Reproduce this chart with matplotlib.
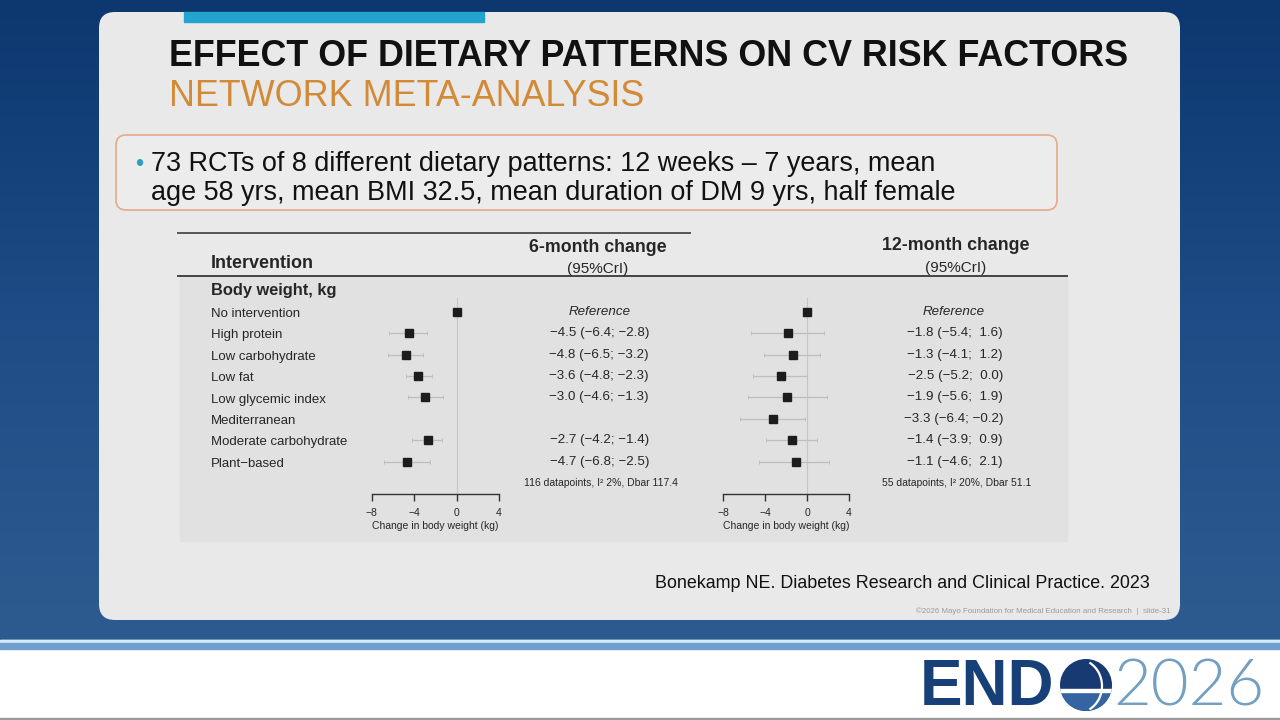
import numpy as np
import matplotlib.pyplot as plt
import matplotlib.transforms as mtransforms
from matplotlib.patches import FancyBboxPatch, Rectangle, Circle, Arc

plt.rcParams['font.family'] = ['Liberation Sans', 'DejaVu Sans']

# ---- data ----
interventions = ['No intervention', 'High protein', 'Low carbohydrate', 'Low fat',
                 'Low glycemic index', 'Mediterranean', 'Moderate carbohydrate',
                 'Plant\u2212based']
est_6m = [0.0, -4.5, -4.8, -3.6, -3.0, np.nan, -2.7, -4.7]
lo_6m = [0.0, -6.4, -6.5, -4.8, -4.6, np.nan, -4.2, -6.8]
hi_6m = [0.0, -2.8, -3.2, -2.3, -1.3, np.nan, -1.4, -2.5]
est_12m = [0.0, -1.8, -1.3, -2.5, -1.9, -3.3, -1.4, -1.1]
lo_12m = [0.0, -5.4, -4.1, -5.2, -5.6, -6.4, -3.9, -4.6]
hi_12m = [0.0, 1.6, 1.2, 0.0, 1.9, -0.2, 0.9, 2.1]
x_ticks = [-8, -4, 0, 4]
footnote_6m = '116 datapoints, I\u00b2 2%, Dbar 117.4'
footnote_12m = '55 datapoints, I\u00b2 20%, Dbar 51.1'

TXT = '#262626'


def fmt(v):
    return f'{v:.1f}'.replace('-', '\u2212')


def ci_label(i, e, l, h):
    if i == 0:
        return 'Reference'
    if np.isnan(e):
        return ''
    hs = fmt(h) if h < 0 else ' ' + fmt(h)  # extra space keeps positives lined up
    return f'{fmt(e)} ({fmt(l)}; {hs})'


def forest(ax, est, lo, hi):
    est, lo, hi = np.array(est), np.array(lo), np.array(hi)
    rows = np.arange(len(est))
    ok = ~np.isnan(est)
    ax.axvline(0, color='#c6c6c6', lw=0.8, zorder=0)
    ax.errorbar(est[ok], rows[ok], xerr=[est[ok] - lo[ok], hi[ok] - est[ok]],
                fmt='none', ecolor='#bdbdbd', elinewidth=0.9, capsize=1.3, capthick=0.7)
    ax.plot(est[ok], rows[ok], 's', color='#1c1c1c', ms=5.2, zorder=3)
    ax.set_xlim(-8, 4)
    ax.set_ylim(8.51, -0.64)
    ax.set_xticks(x_ticks)
    ax.set_xticklabels([fmt(t).replace('.0', '') for t in x_ticks])
    ax.set_yticks([])
    for s in ['top', 'right', 'left']:
        ax.spines[s].set_visible(False)
    ax.spines['bottom'].set_color('#333333')
    ax.spines['bottom'].set_linewidth(1.0)
    ax.tick_params(axis='x', length=5, width=1.0, color='#333333', labelsize=7.5,
                   labelcolor=TXT, pad=5)
    ax.set_xlabel('Change in body weight (kg)', fontsize=7.5, color=TXT, labelpad=2.5)
    ax.patch.set_alpha(0)


fig = plt.figure(figsize=(12.8, 7.2), dpi=100)
bg = fig.add_axes([0, 0, 1, 1])
bg.set_xlim(0, 1280)
bg.set_ylim(720, 0)
bg.axis('off')

# slide background
grad = np.linspace(0, 1, 256).reshape(-1, 1)
cmap = plt.matplotlib.colors.LinearSegmentedColormap.from_list(
    'bgblue', ['#0c376f', '#1f4c86', '#2e5b8f'])
bg.imshow(grad, extent=(0, 1280, 640, 0), cmap=cmap, aspect='auto', zorder=0)
bg.add_patch(Rectangle((0, 640), 1280, 80, color='white', zorder=1))
bg.add_patch(Rectangle((0, 640), 1280, 3, color='#d4ebf8', zorder=2))
bg.add_patch(Rectangle((0, 643), 1280, 6, color='#6f9ecf', zorder=2))
bg.add_patch(Rectangle((0, 718), 1280, 2, color='#9a9a9a', zorder=2))

# white card
bg.add_patch(FancyBboxPatch((99, 12), 1081, 608, boxstyle='round,pad=0,rounding_size=16',
                            fc='#e9e9e9', ec='none', zorder=2))
bg.add_patch(Rectangle((184, 12), 300, 10, color='#22a4cf', zorder=3))

bg.text(169, 66.5, 'EFFECT OF DIETARY PATTERNS ON CV RISK FACTORS', fontsize=25.8,
        fontweight='bold', color='#111111', va='baseline', ha='left', zorder=4)
bg.text(169, 106, 'NETWORK META-ANALYSIS', fontsize=25.8, color='#d28a36',
        va='baseline', ha='left', zorder=4)

# bullet box
bg.add_patch(FancyBboxPatch((116, 135), 941, 75, boxstyle='round,pad=0,rounding_size=10',
                            fc='#ececec', ec='#e6a98a', lw=1.2, zorder=3))
bg.text(135, 171, '\u2022', fontsize=17, color='#2f9cc4', va='baseline', ha='left', zorder=4)
bg.text(151, 171, '73 RCTs of 8 different dietary patterns: 12 weeks \u2013 7 years, mean',
        fontsize=19.45, color='#111111', va='baseline', ha='left', zorder=4)
bg.text(151, 200, 'age 58 yrs, mean BMI 32.5, mean duration of DM 9 yrs, half female',
        fontsize=19.45, color='#111111', va='baseline', ha='left', zorder=4)

# forest figure panel
bg.add_patch(Rectangle((180, 276), 887, 265, color='#e1e1e1', zorder=3))
bg.plot([178, 690], [233, 233], color='#555555', lw=1.4, zorder=4)
bg.plot([178, 1067], [276, 276], color='#444444', lw=1.4, zorder=4)
bg.text(211, 264, 'Intervention', fontsize=13, fontweight='bold', color=TXT,
        va='center', ha='left', zorder=4)
bg.text(598, 247, '6-month change', fontsize=12.8, fontweight='bold', color=TXT,
        va='center', ha='center', zorder=4)
bg.text(598, 269, '(95%CrI)', fontsize=11, color=TXT, va='center', ha='center', zorder=4)
bg.text(956, 246, '12-month change', fontsize=12.8, fontweight='bold', color=TXT,
        va='center', ha='center', zorder=4)
bg.text(956, 268, '(95%CrI)', fontsize=11, color=TXT, va='center', ha='center', zorder=4)
bg.text(211, 291, 'Body weight, kg', fontsize=11.8, fontweight='bold', color=TXT,
        va='center', ha='left', zorder=4)

ax1 = fig.add_axes([371.7 / 1280, 1 - 494 / 720, 127.3 / 1280, 196 / 720], zorder=5)
ax2 = fig.add_axes([723.3 / 1280, 1 - 494 / 720, 125.7 / 1280, 196 / 720], zorder=5)
forest(ax1, est_6m, lo_6m, hi_6m)
forest(ax2, est_12m, lo_12m, hi_12m)

# row labels and estimate columns, rows taken from the forest axes
tr = mtransforms.blended_transform_factory(bg.transData, ax1.transData)
for i, name in enumerate(interventions):
    bg.text(211, i + 0.1, name, transform=tr, fontsize=9.5, color=TXT, va='center',
            ha='left', zorder=6)
    for x_right, x_mid, est, lo, hi in [(649, 600, est_6m, lo_6m, hi_6m),
                                        (1003, 954, est_12m, lo_12m, hi_12m)]:
        lab = ci_label(i, est[i], lo[i], hi[i])
        if i == 0:
            bg.text(x_mid, i, lab, transform=tr, fontsize=9.6, style='italic', color=TXT,
                    va='center', ha='center', zorder=6)
        else:
            bg.text(x_right, i, lab, transform=tr, fontsize=9.6, color=TXT,
                    va='center', ha='right', zorder=6)
bg.text(601, 483, footnote_6m, fontsize=7.5, color=TXT, va='center', ha='center', zorder=6)
bg.text(957, 483, footnote_12m, fontsize=7.5, color=TXT, va='center', ha='center', zorder=6)

# source & footer
bg.text(1150, 583, 'Bonekamp NE. Diabetes Research and Clinical Practice. 2023', fontsize=12.85,
        color='#111111', va='center', ha='right', zorder=4)
bg.text(1171, 611, '\u00a92026 Mayo Foundation for Medical Education and Research  |  slide-31',
        fontsize=5.7, color='#9a9a9a', va='center', ha='right', zorder=4)

# ENDO 2026 logo
bg.text(920, 705, 'END', fontsize=46, fontweight='bold', color='#173f78',
        va='baseline', ha='left', zorder=4)
globe = Circle((1086, 685), 26, fc='#173a72', ec='none', zorder=4)
bg.add_patch(globe)
lower = Rectangle((1058, 691), 60, 24, color='#3564a3', zorder=4)
bg.add_patch(lower)
lower.set_clip_path(globe)
band = Rectangle((1058, 689), 60, 2.5, color='white', zorder=5)
bg.add_patch(band)
band.set_clip_path(globe)
meridian = Arc((1077, 686), 50, 54, theta1=-62, theta2=62, color='white', lw=1.6, zorder=5)
bg.add_patch(meridian)
meridian.set_clip_path(globe)
bg.text(1113, 705, '2026', fontsize=47, fontweight=300, family=['Lato', 'Liberation Sans'],
        color='#739fc3', va='baseline', ha='left', zorder=4)

fig.savefig('out.png', dpi=100)
